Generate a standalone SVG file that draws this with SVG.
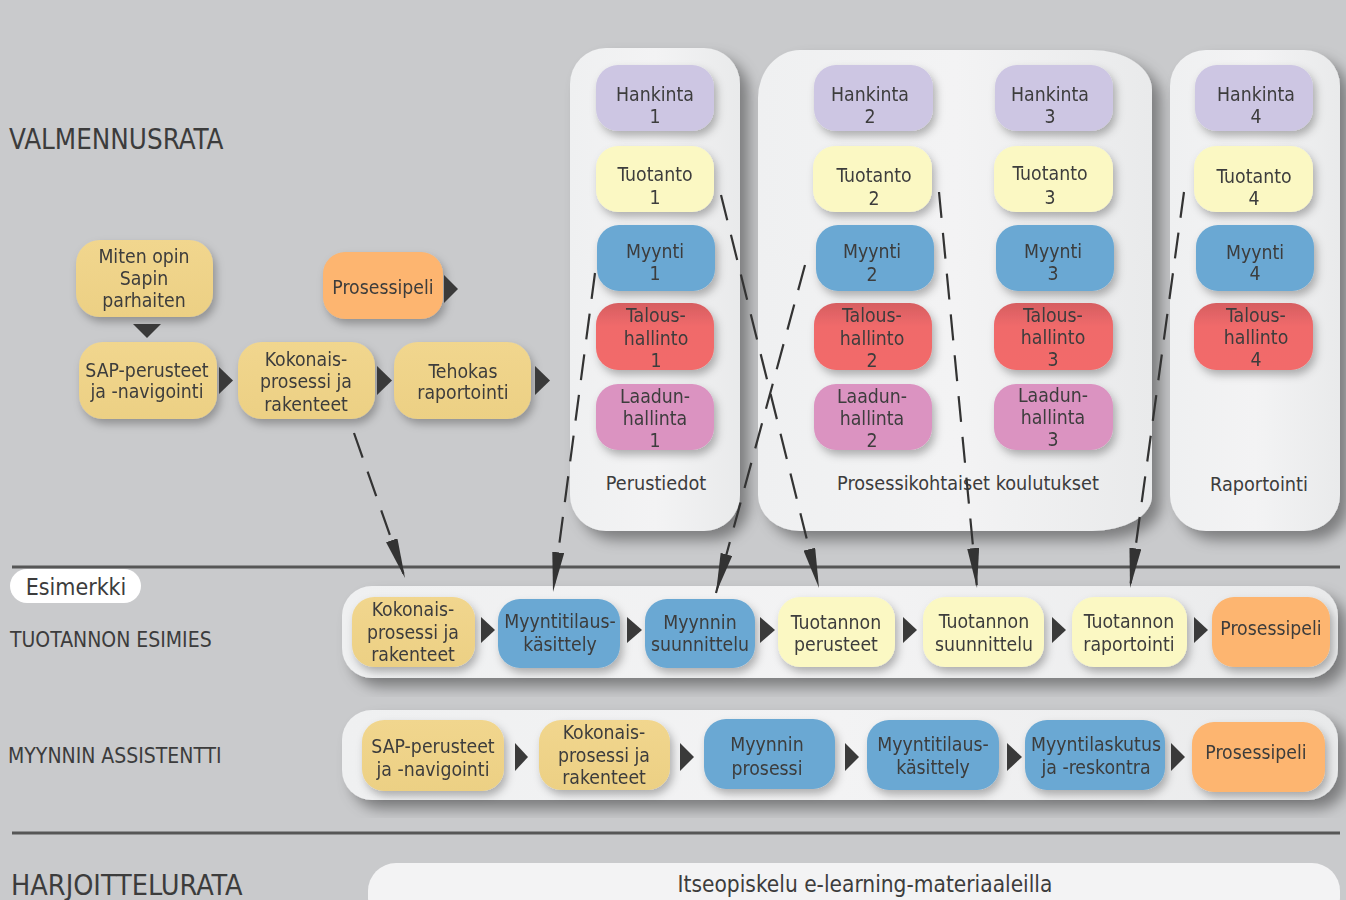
<svg xmlns="http://www.w3.org/2000/svg" width="1346" height="900" viewBox="0 0 1346 900">
<defs>
<style>
.t{font-family:"DejaVu Sans Condensed","DejaVu Sans",sans-serif;font-size:19.3px;fill:#3c3c3c;text-anchor:middle}
.cl{font-size:19.7px}
.big{font-size:22.5px}
.lbl{font-family:"DejaVu Sans Condensed","DejaVu Sans",sans-serif;fill:#3c3c3c}
.hank{fill:#cdc6e3}
.tuot{fill:#fbf8c3}
.myy{fill:#6aa8d3}
.tal{fill:url(#gTal)}
.laa{fill:#db93c1}
.tan{fill:url(#gTan)}
.ora{fill:#fdb56f}
.cont{fill:url(#gCont)}
.dash{fill:none;stroke:#333;stroke-width:2.2;stroke-dasharray:26 15;marker-end:url(#ah)}
.tri{fill:#3a3a3a}
.node{filter:url(#sh)}
</style>
<linearGradient id="gTal" x1="0" y1="0" x2="0" y2="1">
<stop offset="0" stop-color="#d65e61"/><stop offset="0.35" stop-color="#f06a6b"/><stop offset="1" stop-color="#f26b6b"/>
</linearGradient>
<linearGradient id="gTan" x1="0" y1="0" x2="0" y2="1">
<stop offset="0" stop-color="#f1d68e"/><stop offset="1" stop-color="#ecd084"/>
</linearGradient>
<linearGradient id="gCont" x1="0" y1="0" x2="1" y2="0">
<stop offset="0" stop-color="#eff0f1"/><stop offset="0.5" stop-color="#f3f3f4"/><stop offset="1" stop-color="#e9eaeb"/>
</linearGradient>
<filter id="sh" x="-20%" y="-20%" width="150%" height="160%">
<feDropShadow dx="3" dy="5" stdDeviation="4" flood-color="#000" flood-opacity="0.28"/>
</filter>
<filter id="csh" x="-20%" y="-10%" width="150%" height="130%">
<feDropShadow dx="9" dy="9" stdDeviation="7" flood-color="#000" flood-opacity="0.38"/>
</filter>
<marker id="ah" viewBox="0 0 40 12" refX="40" refY="6" markerWidth="40" markerHeight="12" markerUnits="userSpaceOnUse" orient="auto">
<path d="M0,0 L40,6 L0,12 Z" fill="#333"/>
</marker>
</defs>
<rect x="0" y="0" width="1346" height="900" fill="#c9cacc"/>

<g id="section-labels">
<text class="lbl" x="9" y="149" font-size="27.5">VALMENNUSRATA</text>
<text class="lbl" x="10" y="647" font-size="21">TUOTANNON ESIMIES</text>
<text class="lbl" x="8" y="763" font-size="21">MYYNNIN ASSISTENTTI</text>
<text class="lbl" x="11" y="895" font-size="28.5">HARJOITTELURATA</text>
<line x1="12" y1="567" x2="1340" y2="567" stroke="#565656" stroke-width="3"/>
<line x1="12" y1="833" x2="1340" y2="833" stroke="#565656" stroke-width="3"/>
</g>

<g id="esimerkki">
<rect x="10" y="569" width="131" height="34" rx="17" fill="#fff"/>
<text class="lbl" x="76" y="595" font-size="23" text-anchor="middle">Esimerkki</text>
</g>

<g id="containers">
<g id="perustiedot">
<rect class="cont" x="570" y="48" width="170" height="483" rx="36" filter="url(#csh)"/>
<text class="t cl" x="656" y="490">Perustiedot</text>
</g>
<g id="prosessikohtaiset">
<path class="cont" filter="url(#csh)" d="M800,50 L1092,50 A60,40 0 0 1 1152,90 L1152,496 A60,35 0 0 1 1092,531 L800,531 A42,36 0 0 1 758,495 L758,98 A42,48 0 0 1 800,50 Z"/>
<text class="t cl" x="968" y="490">Prosessikohtaiset koulutukset</text>
</g>
<g id="raportointi">
<rect class="cont" x="1170" y="50" width="170" height="481" rx="36" filter="url(#csh)"/>
<text class="t cl" x="1259" y="491">Raportointi</text>
</g>
<g id="row-tuotannon-esimies">
<rect class="cont" x="342" y="586" width="996" height="92" rx="30" filter="url(#csh)"/>
</g>
<g id="row-myynnin-assistentti">
<rect class="cont" x="342" y="710" width="996" height="90" rx="30" filter="url(#csh)"/>
</g>
<g id="itseopiskelu">
<rect x="368" y="863" width="972" height="62" rx="28" fill="#f3f3f4"/>
<text class="t big" x="865" y="892">Itseopiskelu e-learning-materiaaleilla</text>
</g>
</g>

<g id="nodes-top">
<g id="hankinta1" class="node"><rect class="hank" x="596" y="65" width="118" height="66" rx="22"/><text class="t" x="655" y="101">Hankinta</text><text class="t" x="655" y="123">1</text></g>
<g id="tuotanto1" class="node"><rect class="tuot" x="596" y="146" width="118" height="66" rx="22"/><text class="t" x="655" y="181">Tuotanto</text><text class="t" x="655" y="204">1</text></g>
<g id="myynti1" class="node"><rect class="myy" x="597" y="225" width="118" height="66" rx="22"/><text class="t" x="655" y="258">Myynti</text><text class="t" x="655" y="280">1</text></g>
<g id="talous1" class="node"><rect class="tal" x="596" y="303" width="118" height="67" rx="22"/><text class="t" x="656" y="322">Talous-</text><text class="t" x="656" y="345">hallinto</text><text class="t" x="656" y="367">1</text></g>
<g id="laadun1" class="node"><rect class="laa" x="596" y="384" width="118" height="66" rx="22"/><text class="t" x="655" y="403">Laadun-</text><text class="t" x="655" y="425">hallinta</text><text class="t" x="655" y="447">1</text></g>

<g id="hankinta2" class="node"><rect class="hank" x="814" y="65" width="119" height="66" rx="22"/><text class="t" x="870" y="101">Hankinta</text><text class="t" x="870" y="123">2</text></g>
<g id="tuotanto2" class="node"><rect class="tuot" x="813" y="146" width="119" height="66" rx="22"/><text class="t" x="874" y="182">Tuotanto</text><text class="t" x="874" y="205">2</text></g>
<g id="myynti2" class="node"><rect class="myy" x="816" y="225" width="118" height="66" rx="22"/><text class="t" x="872" y="258">Myynti</text><text class="t" x="872" y="281">2</text></g>
<g id="talous2" class="node"><rect class="tal" x="814" y="303" width="118" height="67" rx="22"/><text class="t" x="872" y="322">Talous-</text><text class="t" x="872" y="345">hallinto</text><text class="t" x="872" y="367">2</text></g>
<g id="laadun2" class="node"><rect class="laa" x="814" y="384" width="118" height="66" rx="22"/><text class="t" x="872" y="403">Laadun-</text><text class="t" x="872" y="425">hallinta</text><text class="t" x="872" y="447">2</text></g>

<g id="hankinta3" class="node"><rect class="hank" x="995" y="65" width="118" height="66" rx="22"/><text class="t" x="1050" y="101">Hankinta</text><text class="t" x="1050" y="123">3</text></g>
<g id="tuotanto3" class="node"><rect class="tuot" x="994" y="146" width="119" height="66" rx="22"/><text class="t" x="1050" y="180">Tuotanto</text><text class="t" x="1050" y="204">3</text></g>
<g id="myynti3" class="node"><rect class="myy" x="996" y="225" width="118" height="66" rx="22"/><text class="t" x="1053" y="258">Myynti</text><text class="t" x="1053" y="280">3</text></g>
<g id="talous3" class="node"><rect class="tal" x="994" y="303" width="119" height="67" rx="22"/><text class="t" x="1053" y="322">Talous-</text><text class="t" x="1053" y="344">hallinto</text><text class="t" x="1053" y="366">3</text></g>
<g id="laadun3" class="node"><rect class="laa" x="994" y="384" width="119" height="66" rx="22"/><text class="t" x="1053" y="402">Laadun-</text><text class="t" x="1053" y="424">hallinta</text><text class="t" x="1053" y="446">3</text></g>

<g id="hankinta4" class="node"><rect class="hank" x="1195" y="65" width="118" height="66" rx="22"/><text class="t" x="1256" y="101">Hankinta</text><text class="t" x="1256" y="123">4</text></g>
<g id="tuotanto4" class="node"><rect class="tuot" x="1194" y="146" width="119" height="66" rx="22"/><text class="t" x="1254" y="183">Tuotanto</text><text class="t" x="1254" y="205">4</text></g>
<g id="myynti4" class="node"><rect class="myy" x="1196" y="225" width="118" height="66" rx="22"/><text class="t" x="1255" y="259">Myynti</text><text class="t" x="1255" y="280">4</text></g>
<g id="talous4" class="node"><rect class="tal" x="1194" y="303" width="119" height="67" rx="22"/><text class="t" x="1256" y="322">Talous-</text><text class="t" x="1256" y="344">hallinto</text><text class="t" x="1256" y="366">4</text></g>
</g>

<g id="nodes-left">
<g id="miten-opin" class="node"><rect class="tan" x="76" y="240" width="137" height="77" rx="24"/><text class="t" x="144" y="263">Miten opin</text><text class="t" x="144" y="285">Sapin</text><text class="t" x="144" y="307">parhaiten</text></g>
<g id="sap-perusteet" class="node"><rect class="tan" x="79" y="342" width="138" height="77" rx="24"/><text class="t" x="147" y="377">SAP-perusteet</text><text class="t" x="147" y="398">ja -navigointi</text></g>
<g id="kokonais" class="node"><rect class="tan" x="238" y="342" width="137" height="77" rx="24"/><text class="t" x="306" y="366">Kokonais-</text><text class="t" x="306" y="388">prosessi ja</text><text class="t" x="306" y="411">rakenteet</text></g>
<g id="tehokas" class="node"><rect class="tan" x="394" y="342" width="137" height="77" rx="24"/><text class="t" x="463" y="378">Tehokas</text><text class="t" x="463" y="399">raportointi</text></g>
<g id="prosessipeli-top" class="node"><rect class="ora" x="323" y="252" width="120" height="67" rx="22"/><text class="t" x="383" y="294">Prosessipeli</text></g>
</g>

<g id="nodes-row1">
<g id="r1-kokonais" class="node"><rect class="tan" x="352" y="597" width="123" height="70" rx="22"/><text class="t" x="413" y="616">Kokonais-</text><text class="t" x="413" y="639">prosessi ja</text><text class="t" x="413" y="661">rakenteet</text></g>
<g id="r1-myyntitilaus" class="node"><rect class="myy" x="498" y="599" width="122" height="69" rx="22"/><text class="t" x="560" y="628">Myyntitilaus-</text><text class="t" x="560" y="651">käsittely</text></g>
<g id="r1-myynnin-suunnittelu" class="node"><rect class="myy" x="645" y="599" width="110" height="69" rx="22"/><text class="t" x="700" y="629">Myynnin</text><text class="t" x="700" y="651">suunnittelu</text></g>
<g id="r1-tuotannon-perusteet" class="node"><rect class="tuot" x="778" y="597" width="117" height="70" rx="22"/><text class="t" x="836" y="629">Tuotannon</text><text class="t" x="836" y="651">perusteet</text></g>
<g id="r1-tuotannon-suunnittelu" class="node"><rect class="tuot" x="923" y="597" width="121" height="70" rx="22"/><text class="t" x="984" y="628">Tuotannon</text><text class="t" x="984" y="651">suunnittelu</text></g>
<g id="r1-tuotannon-raportointi" class="node"><rect class="tuot" x="1072" y="597" width="115" height="70" rx="22"/><text class="t" x="1129" y="628">Tuotannon</text><text class="t" x="1129" y="651">raportointi</text></g>
<g id="r1-prosessipeli" class="node"><rect class="ora" x="1212" y="597" width="118" height="70" rx="22"/><text class="t" x="1271" y="635">Prosessipeli</text></g>
</g>

<g id="nodes-row2">
<g id="r2-sap" class="node"><rect class="tan" x="362" y="720" width="142" height="71" rx="22"/><text class="t" x="433" y="753">SAP-perusteet</text><text class="t" x="433" y="776">ja -navigointi</text></g>
<g id="r2-kokonais" class="node"><rect class="tan" x="539" y="720" width="131" height="70" rx="22"/><text class="t" x="604" y="739">Kokonais-</text><text class="t" x="604" y="762">prosessi ja</text><text class="t" x="604" y="784">rakenteet</text></g>
<g id="r2-myynnin-prosessi" class="node"><rect class="myy" x="704" y="719" width="131" height="70" rx="22"/><text class="t" x="767" y="751">Myynnin</text><text class="t" x="767" y="775">prosessi</text></g>
<g id="r2-myyntitilaus" class="node"><rect class="myy" x="867" y="720" width="132" height="70" rx="22"/><text class="t" x="933" y="751">Myyntitilaus-</text><text class="t" x="933" y="774">käsittely</text></g>
<g id="r2-myyntilaskutus" class="node"><rect class="myy" x="1025" y="720" width="140" height="70" rx="22"/><text class="t" x="1096" y="751">Myyntilaskutus</text><text class="t" x="1096" y="774">ja -reskontra</text></g>
<g id="r2-prosessipeli" class="node"><rect class="ora" x="1192" y="722" width="133" height="70" rx="22"/><text class="t" x="1256" y="759">Prosessipeli</text></g>
</g>

<g id="connectors">
<polygon class="tri" points="133,324 161,324 147,338"/>
<polygon class="tri" points="219,367 233,380.5 219,394"/>
<polygon class="tri" points="377,366 392,380.5 377,395"/>
<polygon class="tri" points="535,366 550,380.5 535,395"/>
<polygon class="tri" points="444,275 458,289 444,303"/>
<polygon class="tri" points="481,617 495,630 481,643"/>
<polygon class="tri" points="627,617 642,630 627,643"/>
<polygon class="tri" points="760,617 775,630 760,643"/>
<polygon class="tri" points="903,617 917,630 903,643"/>
<polygon class="tri" points="1052,617 1066,630 1052,643"/>
<polygon class="tri" points="1194,617 1208,630 1194,643"/>
<polygon class="tri" points="515,743 528,757 515,771"/>
<polygon class="tri" points="680,743 694,757 680,771"/>
<polygon class="tri" points="845,743 859,757 845,771"/>
<polygon class="tri" points="1007,743 1022,757 1007,771"/>
<polygon class="tri" points="1171,743 1185,757 1171,771"/>
<path class="dash" d="M354,433 L405,578"/>
<path class="dash" d="M595,273 L553,592"/>
<path class="dash" d="M721,195 L819,588"/>
<path class="dash" d="M805,265 L716,593"/>
<path class="dash" d="M939,192 L977,588"/>
<path class="dash" d="M1184,192 L1130,588"/>
</g>
</svg>
